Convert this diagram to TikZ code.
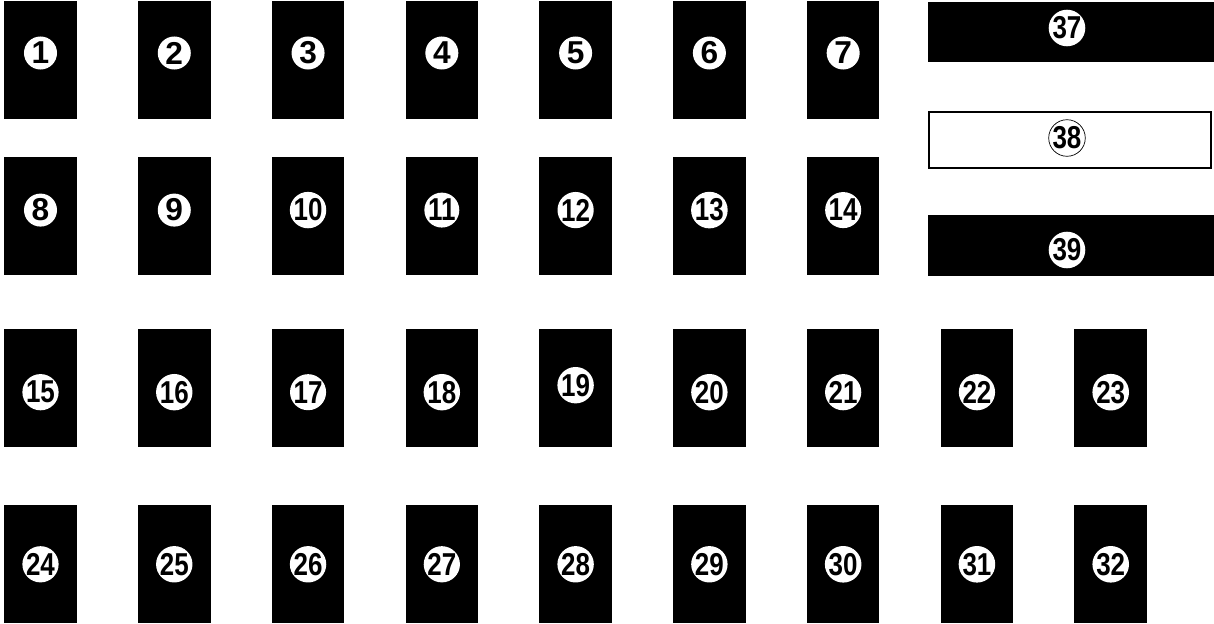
\documentclass[tikz,border=0pt]{standalone}
\usepackage{fontspec}
\setmainfont{Liberation Sans}
\newfontfamily\slimfont[FakeStretch=0.82]{Liberation Sans}
\usetikzlibrary{positioning}

\begin{document}
\begin{tikzpicture}[
  x=0.01cm, y=-0.01cm,
  node distance=0.38cm and 0.612cm,
  slotNode/.style={rectangle, fill=black, minimum width=0.725cm, minimum height=1.18cm, inner sep=0pt, outer sep=0pt},
  barNode/.style={rectangle, fill=black, minimum width=2.86cm, minimum height=0.6cm, inner sep=0pt, outer sep=0pt},
  numNode/.style={circle, fill=white, inner sep=0pt, minimum size=0.33cm, font=\fontsize{9}{9}\selectfont\bfseries},
  slimNum/.style={numNode, font=\fontsize{9}{9}\selectfont\slimfont\bfseries}
]
  \useasboundingbox (0,0) rectangle (1214,624);

  % first row of slots
  \node [slotNode] (s1) at (40.5,60) {};
  \node [slotNode] (s2) [right=of s1] {};
  \node [slotNode] (s3) [right=of s2] {};
  \node [slotNode] (s4) [right=of s3] {};
  \node [slotNode] (s5) [right=of s4] {};
  \node [slotNode] (s6) [right=of s5] {};
  \node [slotNode] (s7) [right=of s6] {};

  % second row
  \node [slotNode] (s8) [below=of s1] {};
  \node [slotNode] (s9) [right=of s8] {};
  \node [slotNode] (s10) [right=of s9] {};
  \node [slotNode] (s11) [right=of s10] {};
  \node [slotNode] (s12) [right=of s11] {};
  \node [slotNode] (s13) [right=of s12] {};
  \node [slotNode] (s14) [right=of s13] {};

  % third row
  \node [slotNode] (s15) [below=0.54cm of s8] {};
  \node [slotNode] (s16) [right=of s15] {};
  \node [slotNode] (s17) [right=of s16] {};
  \node [slotNode] (s18) [right=of s17] {};
  \node [slotNode] (s19) [right=of s18] {};
  \node [slotNode] (s20) [right=of s19] {};
  \node [slotNode] (s21) [right=of s20] {};
  \node [slotNode] (s22) [right=of s21] {};
  \node [slotNode] (s23) [right=of s22] {};

  % fourth row
  \node [slotNode] (s24) [below=0.58cm of s15] {};
  \node [slotNode] (s25) [right=of s24] {};
  \node [slotNode] (s26) [right=of s25] {};
  \node [slotNode] (s27) [right=of s26] {};
  \node [slotNode] (s28) [right=of s27] {};
  \node [slotNode] (s29) [right=of s28] {};
  \node [slotNode] (s30) [right=of s29] {};
  \node [slotNode] (s31) [right=of s30] {};
  \node [slotNode] (s32) [right=of s31] {};

  % long bars
  \node [barNode] (b37) at (1071,32) {};
  \node [barNode, fill=white, draw=black, line width=0.02cm, minimum width=2.82cm, minimum height=0.56cm] (b38) at (1070,140) {};
  \node [barNode] (b39) at (1071,245.5) {};

  % numbers
  \foreach \i in {1,...,7} \node [numNode] (n\i) at ([yshift=0.07cm]s\i) {\i};
  \node [numNode] (n8) at ([yshift=0.06cm]s8) {8};
  \node [numNode] (n9) at ([yshift=0.06cm]s9) {9};
  \foreach \i in {10,...,14} \node [slimNum] (n\i) at ([yshift=0.06cm]s\i) {\i};
  \foreach \i in {15,16,17,18,20,21,22,23} \node [slimNum] (n\i) at ([yshift=-0.04cm]s\i) {\i};
  \node [slimNum] (n19) at ([yshift=0.03cm]s19) {19};
  \foreach \i in {24,...,32} \node [slimNum] (n\i) at (s\i) {\i};
  \node [slimNum] (n37) at ([xshift=-0.04cm, yshift=0.04cm]b37) {37};
  \node [slimNum, draw=black, line width=0.2pt] (n38) at ([xshift=-0.03cm, yshift=0.02cm]b38) {38};
  \node [slimNum] (n39) at ([xshift=-0.04cm, yshift=-0.045cm]b39) {39};
\end{tikzpicture}
\end{document}
